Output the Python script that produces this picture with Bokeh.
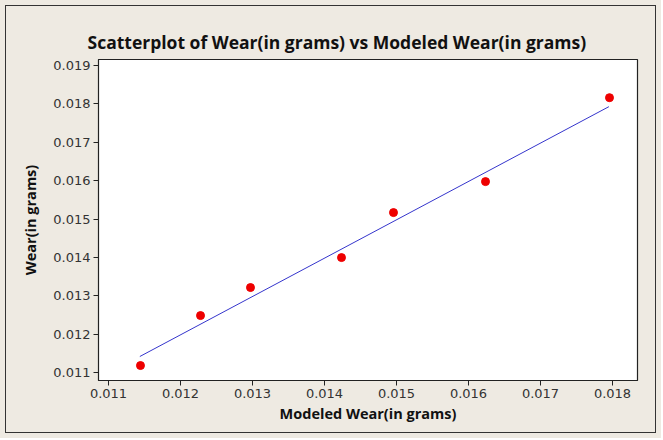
from bokeh.plotting import figure
from bokeh.layouts import column
from bokeh.models import Range1d, FixedTicker, Title, NumeralTickFormatter
from bokeh.embed import file_html
from bokeh.resources import INLINE

# Data
modeled_wear = [0.011444, 0.012278, 0.012972, 0.014236, 0.014958, 0.016236, 0.017958]
wear = [0.011182, 0.012484, 0.013214, 0.013995, 0.015167, 0.015974, 0.018161]
fit_x = [0.011435, 0.01795]
fit_y = [0.011417, 0.017927]
x_ticks = [0.011, 0.012, 0.013, 0.014, 0.015, 0.016, 0.017, 0.018]
y_ticks = [0.011, 0.012, 0.013, 0.014, 0.015, 0.016, 0.017, 0.018, 0.019]

BG = "#EEEAE2"

p = figure(width=651, height=428, output_backend="svg", toolbar_location=None,
           x_range=Range1d(0.010861, 0.018347), y_range=Range1d(0.010792, 0.019156),
           min_border_left=92, min_border_right=20, min_border_top=53, min_border_bottom=54)
p.background_fill_color = "white"
p.border_fill_color = BG
p.outline_line_color = "#222222"
p.outline_line_width = 1.2
p.grid.visible = False
p.styles = {"border": "1px solid #333333"}

p.title = Title(text="Scatterplot of Wear(in grams) vs Modeled Wear(in grams)",
                align="left", text_font="Open Sans", text_font_size="17.5px",
                text_font_style="bold", text_color="#111111", offset=-11, standoff=11)

fmt = NumeralTickFormatter(format="0.000")
for ax, ticks, label in ((p.xaxis, x_ticks, "Modeled Wear(in grams)"),
                         (p.yaxis, y_ticks, "Wear(in grams)")):
    ax.ticker = FixedTicker(ticks=ticks)
    ax.formatter = fmt
    ax.minor_tick_line_color = None
    ax.major_tick_in = 0
    ax.major_tick_out = 5
    ax.major_tick_line_color = "#222222"
    ax.axis_line_color = "#222222"
    ax.major_label_text_font = "DejaVu Sans"
    ax.major_label_text_font_size = "13px"
    ax.major_label_text_color = "#333333"
    ax.major_label_standoff = 3
    ax.axis_label = label
    ax.axis_label_text_font = "Open Sans"
    ax.axis_label_text_font_size = "14.5px"
    ax.axis_label_text_font_style = "bold"
    ax.axis_label_text_color = "#111111"

p.xaxis.axis_label_standoff = 3
p.yaxis.axis_label_standoff = 10

p.line(fit_x, fit_y, line_color="#3535CC", line_width=1)
p.scatter(modeled_wear, wear, size=8, fill_color="#EE0000", line_color="#EE0000", marker="circle")

layout = column(p, styles={"background-color": BG, "padding": "5px"})

open("out.html", "w").write(file_html(layout, INLINE))
